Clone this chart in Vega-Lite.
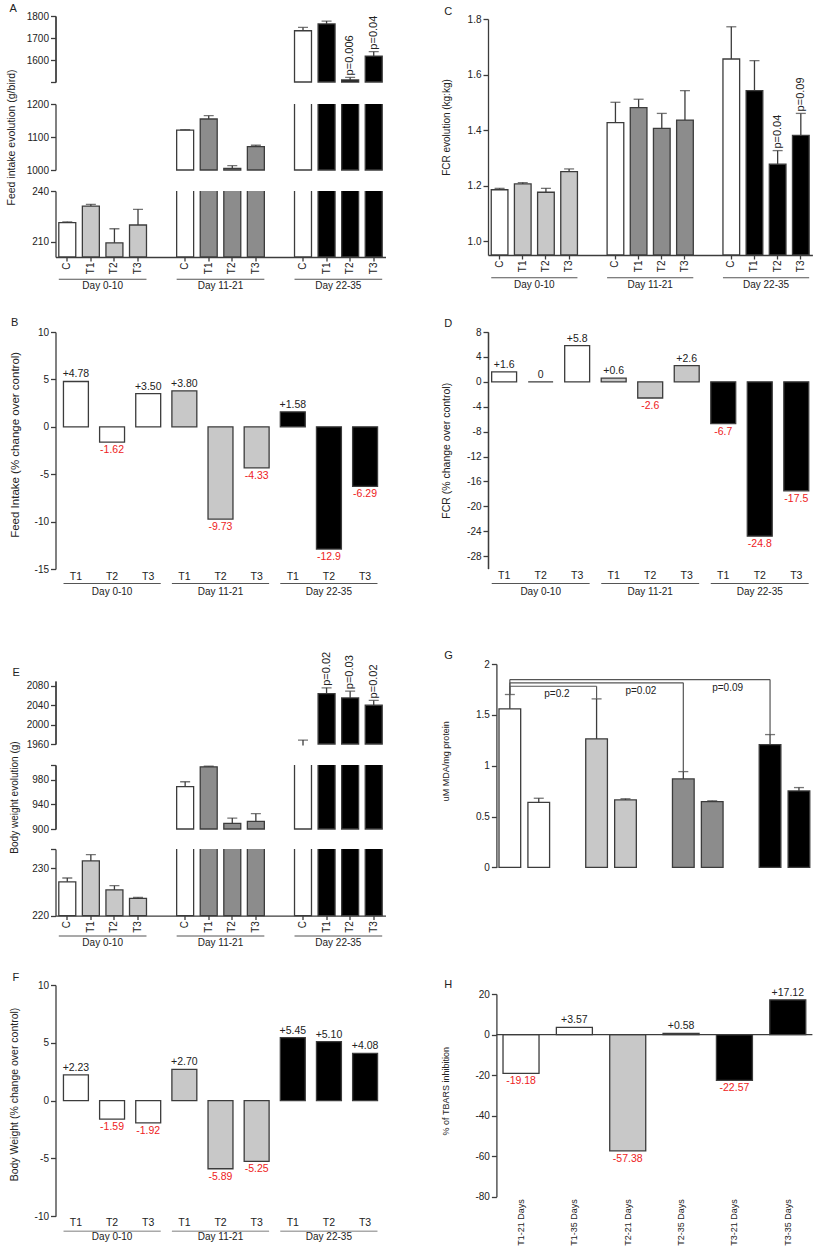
{
"$schema": "https://vega.github.io/schema/vega-lite/v6.json",
"padding": {"left": 6.5, "top": 0, "right": 0, "bottom": 0},
"background": "white",
"config": {
 "font": "Liberation Sans, Arial, sans-serif",
 "view": {"stroke": null},
 "axis": {"labelFont": "Liberation Sans, Arial, sans-serif", "titleFont": "Liberation Sans, Arial, sans-serif", "labelFontSize": 10, "titleFontSize": 10.5, "titleFontWeight": "normal", "labelColor": "#222222", "titleColor": "#222222", "domainColor": "#3c3c3c", "tickColor": "#3c3c3c", "domainWidth": 1.3, "tickWidth": 1.3, "tickSize": 5, "grid": false, "labelPadding": 2, "labelOverlap": false, "labelBound": false, "labelFlush": false},
 "title": {"font": "Liberation Sans, Arial, sans-serif", "fontSize": 11, "fontWeight": "normal", "anchor": "start", "frame": "group", "color": "#222222", "baseline": "alphabetic"},
 "text": {"font": "Liberation Sans, Arial, sans-serif"}
},
"datasets": {
 "grp": [{"g": "Day 0-10"}, {"g": "Day 11-21"}, {"g": "Day 22-35"}],
 "fi": [
  {"g": "Day 0-10", "t": "C", "k": "Day 0-10|C", "v": 221.3, "hi": 221.8},
  {"g": "Day 0-10", "t": "T1", "k": "Day 0-10|T1", "v": 231.1, "hi": 232.1},
  {"g": "Day 0-10", "t": "T2", "k": "Day 0-10|T2", "v": 209.4, "hi": 217.7},
  {"g": "Day 0-10", "t": "T3", "k": "Day 0-10|T3", "v": 219.9, "hi": 229.2},
  {"g": "Day 11-21", "t": "C", "k": "Day 11-21|C", "v": 1121, "hi": 1122},
  {"g": "Day 11-21", "t": "T1", "k": "Day 11-21|T1", "v": 1154.5, "hi": 1164.5},
  {"g": "Day 11-21", "t": "T2", "k": "Day 11-21|T2", "v": 1005, "hi": 1013},
  {"g": "Day 11-21", "t": "T3", "k": "Day 11-21|T3", "v": 1071, "hi": 1075},
  {"g": "Day 22-35", "t": "C", "k": "Day 22-35|C", "v": 1733, "hi": 1748},
  {"g": "Day 22-35", "t": "T1", "k": "Day 22-35|T1", "v": 1764, "hi": 1777},
  {"g": "Day 22-35", "t": "T2", "k": "Day 22-35|T2", "v": 1509, "hi": 1521, "p": "p=0.006"},
  {"g": "Day 22-35", "t": "T3", "k": "Day 22-35|T3", "v": 1618, "hi": 1638, "p": "p=0.04"}
 ],
 "fcr": [
  {"g": "Day 0-10", "t": "C", "k": "Day 0-10|C", "v": 1.185, "hi": 1.19},
  {"g": "Day 0-10", "t": "T1", "k": "Day 0-10|T1", "v": 1.206, "hi": 1.211},
  {"g": "Day 0-10", "t": "T2", "k": "Day 0-10|T2", "v": 1.176, "hi": 1.19},
  {"g": "Day 0-10", "t": "T3", "k": "Day 0-10|T3", "v": 1.25, "hi": 1.26},
  {"g": "Day 11-21", "t": "C", "k": "Day 11-21|C", "v": 1.427, "hi": 1.5},
  {"g": "Day 11-21", "t": "T1", "k": "Day 11-21|T1", "v": 1.481, "hi": 1.511},
  {"g": "Day 11-21", "t": "T2", "k": "Day 11-21|T2", "v": 1.406, "hi": 1.46},
  {"g": "Day 11-21", "t": "T3", "k": "Day 11-21|T3", "v": 1.436, "hi": 1.542},
  {"g": "Day 22-35", "t": "C", "k": "Day 22-35|C", "v": 1.656, "hi": 1.772},
  {"g": "Day 22-35", "t": "T1", "k": "Day 22-35|T1", "v": 1.542, "hi": 1.65},
  {"g": "Day 22-35", "t": "T2", "k": "Day 22-35|T2", "v": 1.277, "hi": 1.326, "p": "p=0.04"},
  {"g": "Day 22-35", "t": "T3", "k": "Day 22-35|T3", "v": 1.381, "hi": 1.46, "p": "p=0.09"}
 ],
 "bw": [
  {"g": "Day 0-10", "t": "C", "k": "Day 0-10|C", "v": 227.1, "hi": 227.9},
  {"g": "Day 0-10", "t": "T1", "k": "Day 0-10|T1", "v": 231.5, "hi": 232.8},
  {"g": "Day 0-10", "t": "T2", "k": "Day 0-10|T2", "v": 225.4, "hi": 226.3},
  {"g": "Day 0-10", "t": "T3", "k": "Day 0-10|T3", "v": 223.6, "hi": 223.8},
  {"g": "Day 11-21", "t": "C", "k": "Day 11-21|C", "v": 968.7, "hi": 976.8},
  {"g": "Day 11-21", "t": "T1", "k": "Day 11-21|T1", "v": 1001, "hi": 1002},
  {"g": "Day 11-21", "t": "T2", "k": "Day 11-21|T2", "v": 909.2, "hi": 917.8},
  {"g": "Day 11-21", "t": "T3", "k": "Day 11-21|T3", "v": 912.4, "hi": 924.9},
  {"g": "Day 22-35", "t": "C", "k": "Day 22-35|C", "v": 1957, "hi": 1968},
  {"g": "Day 22-35", "t": "T1", "k": "Day 22-35|T1", "v": 2064, "hi": 2076, "p": "p=0.02"},
  {"g": "Day 22-35", "t": "T2", "k": "Day 22-35|T2", "v": 2055, "hi": 2069, "p": "p=0.03"},
  {"g": "Day 22-35", "t": "T3", "k": "Day 22-35|T3", "v": 2040, "hi": 2050, "p": "p=0.02"}
 ],
 "fip": [
  {"g": "Day 0-10", "k": "Day 0-10|T1", "v": 4.78, "lab": "+4.78"},
  {"g": "Day 0-10", "k": "Day 0-10|T2", "v": -1.62, "lab": "-1.62"},
  {"g": "Day 0-10", "k": "Day 0-10|T3", "v": 3.5, "lab": "+3.50"},
  {"g": "Day 11-21", "k": "Day 11-21|T1", "v": 3.8, "lab": "+3.80"},
  {"g": "Day 11-21", "k": "Day 11-21|T2", "v": -9.73, "lab": "-9.73"},
  {"g": "Day 11-21", "k": "Day 11-21|T3", "v": -4.33, "lab": "-4.33"},
  {"g": "Day 22-35", "k": "Day 22-35|T1", "v": 1.58, "lab": "+1.58"},
  {"g": "Day 22-35", "k": "Day 22-35|T2", "v": -12.9, "lab": "-12.9"},
  {"g": "Day 22-35", "k": "Day 22-35|T3", "v": -6.29, "lab": "-6.29"}
 ],
 "fcrp": [
  {"g": "Day 0-10", "k": "Day 0-10|T1", "v": 1.6, "lab": "+1.6"},
  {"g": "Day 0-10", "k": "Day 0-10|T2", "v": 0, "lab": "0"},
  {"g": "Day 0-10", "k": "Day 0-10|T3", "v": 5.8, "lab": "+5.8"},
  {"g": "Day 11-21", "k": "Day 11-21|T1", "v": 0.6, "lab": "+0.6"},
  {"g": "Day 11-21", "k": "Day 11-21|T2", "v": -2.6, "lab": "-2.6"},
  {"g": "Day 11-21", "k": "Day 11-21|T3", "v": 2.6, "lab": "+2.6"},
  {"g": "Day 22-35", "k": "Day 22-35|T1", "v": -6.7, "lab": "-6.7"},
  {"g": "Day 22-35", "k": "Day 22-35|T2", "v": -24.8, "lab": "-24.8"},
  {"g": "Day 22-35", "k": "Day 22-35|T3", "v": -17.5, "lab": "-17.5"}
 ],
 "bwp": [
  {"g": "Day 0-10", "k": "Day 0-10|T1", "v": 2.23, "lab": "+2.23"},
  {"g": "Day 0-10", "k": "Day 0-10|T2", "v": -1.59, "lab": "-1.59"},
  {"g": "Day 0-10", "k": "Day 0-10|T3", "v": -1.92, "lab": "-1.92"},
  {"g": "Day 11-21", "k": "Day 11-21|T1", "v": 2.7, "lab": "+2.70"},
  {"g": "Day 11-21", "k": "Day 11-21|T2", "v": -5.89, "lab": "-5.89"},
  {"g": "Day 11-21", "k": "Day 11-21|T3", "v": -5.25, "lab": "-5.25"},
  {"g": "Day 22-35", "k": "Day 22-35|T1", "v": 5.45, "lab": "+5.45"},
  {"g": "Day 22-35", "k": "Day 22-35|T2", "v": 5.1, "lab": "+5.10"},
  {"g": "Day 22-35", "k": "Day 22-35|T3", "v": 4.08, "lab": "+4.08"}
 ],
 "tb": [
  {"k": "C-21 Days", "t": "C", "v": 1.559, "hi": 1.7},
  {"k": "C-35 Days", "t": "C", "v": 0.64, "hi": 0.68},
  {"k": "T1-21 Days", "t": "T1", "v": 1.264, "hi": 1.657},
  {"k": "T1-35 Days", "t": "T1", "v": 0.663, "hi": 0.675},
  {"k": "T2-21 Days", "t": "T2", "v": 0.87, "hi": 0.942},
  {"k": "T2-35 Days", "t": "T2", "v": 0.647, "hi": 0.655},
  {"k": "T3-21 Days", "t": "T3", "v": 1.208, "hi": 1.306},
  {"k": "T3-35 Days", "t": "T3", "v": 0.752, "hi": 0.785}
 ],
 "tbb": [
  {"from": "C-21 Days", "to": "T1-21 Days", "lvl": 1.781, "base": 1.7, "top": 1.657, "p": "p=0.2"},
  {"from": "C-21 Days", "to": "T2-21 Days", "lvl": 1.815, "base": 1.7, "top": 0.942, "p": "p=0.02"},
  {"from": "C-21 Days", "to": "T3-21 Days", "lvl": 1.847, "base": 1.7, "top": 1.306, "p": "p=0.09"}
 ],
 "inh": [
  {"k": "T1-21 Days", "t": "T1", "v": -19.18, "lab": "-19.18"},
  {"k": "T1-35 Days", "t": "T1", "v": 3.57, "lab": "+3.57"},
  {"k": "T2-21 Days", "t": "T2", "v": -57.38, "lab": "-57.38"},
  {"k": "T2-35 Days", "t": "T2", "v": 0.58, "lab": "+0.58"},
  {"k": "T3-21 Days", "t": "T3", "v": -22.57, "lab": "-22.57"},
  {"k": "T3-35 Days", "t": "T3", "v": 17.12, "lab": "+17.12"}
 ]
},
"spacing": 55.5,
"hconcat": [
 {"bounds": "flush", "spacing": 0, "vconcat": [
  {"width": 330, "height": 103.3,
   "title": {"text": "A", "dx": -46, "offset": -14},
   "data": {"name": "fi"},
   "encoding": {"x": {"field": "k", "type": "nominal", "scale": {"domain": ["Day 0-10|C","Day 0-10|T1","Day 0-10|T2","Day 0-10|T3","s1","Day 11-21|C","Day 11-21|T1","Day 11-21|T2","Day 11-21|T3","s2","Day 22-35|C","Day 22-35|T1","Day 22-35|T2","Day 22-35|T3"], "paddingInner": 0.28, "paddingOuter": 0.14}, "axis": null}},
   "layer": [
    {"transform": [{"filter": "datum.v >= 1500"}], "mark": {"type": "bar", "clip": true, "stroke": "#3c3c3c", "strokeWidth": 1.3},
     "encoding": {"y": {"field": "v", "type": "quantitative", "scale": {"domain": [1500, 1800], "zero": false, "nice": false, "range": [82, 16]}, "axis": {"orient": "left", "values": [1500, 1700], "labelExpr": "datum.value == 1500 ? '' : '' + datum.value", "title": null}},
      "y2": {"datum": 1500},
      "fill": {"condition": [{"test": "datum.t === 'C'", "value": "#ffffff"}, {"test": "datum.g === 'Day 0-10'", "value": "#c8c8c8"}, {"test": "datum.g === 'Day 11-21'", "value": "#8c8c8c"}], "value": "#000000"}}},
    {"transform": [{"filter": "datum.hi >= 1500"}], "mark": {"type": "rule", "clip": true, "color": "#3c3c3c", "strokeWidth": 1.3}, "encoding": {"y": {"field": "v", "type": "quantitative", "axis": {"orient": "left", "values": [1600, 1800], "labelExpr": "'' + datum.value", "title": null}}, "y2": {"field": "hi"}}},
    {"transform": [{"filter": "datum.hi >= 1500"}], "mark": {"type": "tick", "clip": true, "color": "#3c3c3c", "thickness": 1.3, "size": 10}, "encoding": {"y": {"field": "hi", "type": "quantitative", "axis": null}}},
    {"transform": [{"filter": "isValid(datum.p)"}], "mark": {"type": "text", "angle": 270, "align": "left", "baseline": "middle", "dx": 2, "fontSize": 11, "color": "#222222"}, "encoding": {"y": {"field": "hi", "type": "quantitative", "axis": null}, "text": {"field": "p", "type": "nominal"}}}
   ],
   "resolve": {"axis": {"y": "independent"}}},
  {"width": 330, "height": 86.7,
   "data": {"name": "fi"},
   "encoding": {"x": {"field": "k", "type": "nominal", "scale": {"domain": ["Day 0-10|C","Day 0-10|T1","Day 0-10|T2","Day 0-10|T3","s1","Day 11-21|C","Day 11-21|T1","Day 11-21|T2","Day 11-21|T3","s2","Day 22-35|C","Day 22-35|T1","Day 22-35|T2","Day 22-35|T3"], "paddingInner": 0.28, "paddingOuter": 0.14}, "axis": null}},
   "layer": [
    {"transform": [{"filter": "datum.v >= 1000"}], "mark": {"type": "bar", "clip": true, "stroke": "#3c3c3c", "strokeWidth": 1.3},
     "encoding": {"y": {"field": "v", "type": "quantitative", "scale": {"domain": [1000, 1200], "zero": false, "nice": false, "range": [66, 0]}, "axis": {"values": [1000, 1100, 1200], "labelExpr": "'' + datum.value", "title": "Feed intake evolution (g/bird)", "titleX": -39, "titleAngle": 270, "titleBaseline": "bottom", "titleFontSize": 10.5}},
      "y2": {"datum": 1000},
      "fill": {"condition": [{"test": "datum.t === 'C'", "value": "#ffffff"}, {"test": "datum.g === 'Day 0-10'", "value": "#c8c8c8"}, {"test": "datum.g === 'Day 11-21'", "value": "#8c8c8c"}], "value": "#000000"}}},
    {"transform": [{"filter": "datum.hi >= 1000"}], "mark": {"type": "rule", "clip": true, "color": "#3c3c3c", "strokeWidth": 1.3}, "encoding": {"y": {"field": "v", "type": "quantitative"}, "y2": {"field": "hi"}}},
    {"transform": [{"filter": "datum.hi >= 1000"}], "mark": {"type": "tick", "clip": true, "color": "#3c3c3c", "thickness": 1.3, "size": 10}, "encoding": {"y": {"field": "hi", "type": "quantitative"}}}
   ]},
  {"width": 330, "height": 140.7,
   "layer": [
    {"data": {"name": "fi"},
     "encoding": {"x": {"field": "k", "type": "nominal", "scale": {"domain": ["Day 0-10|C","Day 0-10|T1","Day 0-10|T2","Day 0-10|T3","s1","Day 11-21|C","Day 11-21|T1","Day 11-21|T2","Day 11-21|T3","s2","Day 22-35|C","Day 22-35|T1","Day 22-35|T2","Day 22-35|T3"], "paddingInner": 0.28, "paddingOuter": 0.14}, "axis": {"offset": -74.7, "values": ["Day 0-10|C","Day 0-10|T1","Day 0-10|T2","Day 0-10|T3","Day 11-21|C","Day 11-21|T1","Day 11-21|T2","Day 11-21|T3","Day 22-35|C","Day 22-35|T1","Day 22-35|T2","Day 22-35|T3"], "labelExpr": "split(datum.value, '|')[1]", "labelAngle": 270, "labelFontSize": 10, "tickSize": 4, "labelPadding": 1, "title": null}}},
     "layer": [
      {"transform": [{"filter": "datum.v >= 201"}], "mark": {"type": "bar", "clip": true, "stroke": "#3c3c3c", "strokeWidth": 1.3},
       "encoding": {"y": {"field": "v", "type": "quantitative", "scale": {"domain": [201, 240], "zero": false, "nice": false, "range": [66, 0]}, "axis": {"values": [210, 240], "labelExpr": "'' + datum.value", "title": null}},
        "y2": {"datum": 201},
        "fill": {"condition": [{"test": "datum.t === 'C'", "value": "#ffffff"}, {"test": "datum.g === 'Day 0-10'", "value": "#c8c8c8"}, {"test": "datum.g === 'Day 11-21'", "value": "#8c8c8c"}], "value": "#000000"}}},
      {"transform": [{"filter": "datum.hi >= 201"}], "mark": {"type": "rule", "clip": true, "color": "#3c3c3c", "strokeWidth": 1.3}, "encoding": {"y": {"field": "v", "type": "quantitative"}, "y2": {"field": "hi"}}},
      {"transform": [{"filter": "datum.hi >= 201"}], "mark": {"type": "tick", "clip": true, "color": "#3c3c3c", "thickness": 1.3, "size": 10}, "encoding": {"y": {"field": "hi", "type": "quantitative"}}}
     ]},
    {"data": {"name": "grp"},
     "mark": {"type": "bar", "color": "#555555"},
     "encoding": {"x": {"field": "g", "type": "nominal", "scale": {"domain": ["Day 0-10", "Day 11-21", "Day 22-35"], "paddingInner": 0.256, "paddingOuter": 0.028}, "axis": {"orient": "bottom", "offset": -51.5, "domain": false, "ticks": false, "tickSize": 0, "labelPadding": 0, "labelAngle": 0, "labelFontSize": 10, "title": null}},
      "y": {"datum": 188.2, "type": "quantitative"}, "y2": {"datum": 187.6}}}
   ],
   "resolve": {"scale": {"x": "independent"}}},
  {"width": 330, "height": 348.6,
   "title": {"text": "B", "dx": -44.5, "offset": -1.3},
   "layer": [
    {"data": {"name": "fip"},
     "encoding": {"x": {"field": "k", "type": "nominal", "scale": {"domain": ["Day 0-10|T1","Day 0-10|T2","Day 0-10|T3","Day 11-21|T1","Day 11-21|T2","Day 11-21|T3","Day 22-35|T1","Day 22-35|T2","Day 22-35|T3"], "paddingInner": 0.31, "paddingOuter": 0.22}, "axis": {"offset": -111.6, "labelExpr": "split(datum.value, '|')[1]", "labelAngle": 0, "labelFontSize": 10.5, "domain": false, "ticks": false, "tickSize": 0, "labelPadding": 2.2, "title": null}}},
     "layer": [
      {"mark": {"type": "bar", "stroke": "#3c3c3c", "strokeWidth": 1.3},
       "encoding": {"y": {"field": "v", "type": "quantitative", "scale": {"domain": [-15, 10], "nice": false, "range": [237, 0]}, "axis": {"values": [-15, -10, -5, 0, 5, 10], "labelExpr": "'' + datum.value", "title": "Feed Intake (% change over control)", "titleX": -35.25, "titleY": 112.3, "titleAngle": 270, "titleBaseline": "bottom", "titleFontSize": 11.5}},
        "fill": {"condition": [{"test": "datum.g === 'Day 0-10'", "value": "#ffffff"}, {"test": "datum.g === 'Day 11-21'", "value": "#c8c8c8"}], "value": "#000000"}}},
      {"mark": {"type": "rule", "color": "#3c3c3c", "strokeWidth": 1.3}, "encoding": {"y": {"datum": 0, "type": "quantitative"}}},
      {"transform": [{"filter": "datum.v >= 0"}], "mark": {"type": "text", "baseline": "alphabetic", "dy": -4, "fontSize": 10.5, "color": "#222222"}, "encoding": {"y": {"field": "v", "type": "quantitative"}, "text": {"field": "lab", "type": "nominal"}}},
      {"transform": [{"filter": "datum.v < 0"}], "mark": {"type": "text", "baseline": "top", "dy": 3, "fontSize": 10.5, "color": "#ee2222"}, "encoding": {"y": {"field": "v", "type": "quantitative"}, "text": {"field": "lab", "type": "nominal"}}}
     ]},
    {"data": {"name": "grp"},
     "mark": {"type": "bar", "color": "#555555"},
     "encoding": {"x": {"field": "g", "type": "nominal", "scale": {"domain": ["Day 0-10", "Day 11-21", "Day 22-35"], "paddingInner": 0.103, "paddingOuter": 0.074}, "axis": {"orient": "bottom", "offset": -94.1, "domain": false, "ticks": false, "tickSize": 0, "labelPadding": 0, "labelAngle": 0, "labelFontSize": 10, "title": null}},
      "y": {"datum": -16.48, "type": "quantitative"}, "y2": {"datum": -16.58}}}
   ],
   "resolve": {"scale": {"x": "independent"}}},
  {"width": 330, "height": 83.4,
   "title": {"text": "E", "dx": -43, "offset": -25.7},
   "data": {"name": "bw"},
   "encoding": {"x": {"field": "k", "type": "nominal", "scale": {"domain": ["Day 0-10|C","Day 0-10|T1","Day 0-10|T2","Day 0-10|T3","s1","Day 11-21|C","Day 11-21|T1","Day 11-21|T2","Day 11-21|T3","s2","Day 22-35|C","Day 22-35|T1","Day 22-35|T2","Day 22-35|T3"], "paddingInner": 0.28, "paddingOuter": 0.14}, "axis": null}},
   "layer": [
    {"transform": [{"filter": "datum.v >= 1960"}], "mark": {"type": "bar", "clip": true, "stroke": "#3c3c3c", "strokeWidth": 1.3},
     "encoding": {"y": {"field": "v", "type": "quantitative", "scale": {"domain": [1960, 2090], "zero": false, "nice": false, "range": [63, 0]}, "axis": {"orient": "left", "values": [1960, 2040], "labelExpr": "'' + datum.value", "title": null}},
      "y2": {"datum": 1960},
      "fill": {"condition": [{"test": "datum.t === 'C'", "value": "#ffffff"}, {"test": "datum.g === 'Day 0-10'", "value": "#c8c8c8"}, {"test": "datum.g === 'Day 11-21'", "value": "#8c8c8c"}], "value": "#000000"}}},
    {"transform": [{"filter": "datum.hi >= 1960"}], "mark": {"type": "rule", "clip": true, "color": "#3c3c3c", "strokeWidth": 1.3}, "encoding": {"y": {"field": "v", "type": "quantitative", "axis": {"orient": "left", "values": [2000, 2080], "labelExpr": "'' + datum.value", "title": null}}, "y2": {"field": "hi"}}},
    {"transform": [{"filter": "datum.hi >= 1960"}], "mark": {"type": "tick", "clip": true, "color": "#3c3c3c", "thickness": 1.3, "size": 10}, "encoding": {"y": {"field": "hi", "type": "quantitative", "axis": null}}},
    {"transform": [{"filter": "isValid(datum.p)"}], "mark": {"type": "text", "angle": 270, "align": "left", "baseline": "middle", "dx": 2, "fontSize": 11, "color": "#222222"}, "encoding": {"y": {"field": "hi", "type": "quantitative", "axis": null}, "text": {"field": "p", "type": "nominal"}}}
   ],
   "resolve": {"axis": {"y": "independent"}}},
  {"width": 330, "height": 84,
   "data": {"name": "bw"},
   "encoding": {"x": {"field": "k", "type": "nominal", "scale": {"domain": ["Day 0-10|C","Day 0-10|T1","Day 0-10|T2","Day 0-10|T3","s1","Day 11-21|C","Day 11-21|T1","Day 11-21|T2","Day 11-21|T3","s2","Day 22-35|C","Day 22-35|T1","Day 22-35|T2","Day 22-35|T3"], "paddingInner": 0.28, "paddingOuter": 0.14}, "axis": null}},
   "layer": [
    {"transform": [{"filter": "datum.v >= 900"}], "mark": {"type": "bar", "clip": true, "stroke": "#3c3c3c", "strokeWidth": 1.3},
     "encoding": {"y": {"field": "v", "type": "quantitative", "scale": {"domain": [900, 1004], "zero": false, "nice": false, "range": [64, 0]}, "axis": {"orient": "left", "values": [900, 980], "labelExpr": "'' + datum.value", "title": "Body weight evolution (g)", "titleX": -36, "titleAngle": 270, "titleBaseline": "bottom", "titleFontSize": 10}},
      "y2": {"datum": 900},
      "fill": {"condition": [{"test": "datum.t === 'C'", "value": "#ffffff"}, {"test": "datum.g === 'Day 0-10'", "value": "#c8c8c8"}, {"test": "datum.g === 'Day 11-21'", "value": "#8c8c8c"}], "value": "#000000"}}},
    {"transform": [{"filter": "datum.hi >= 900"}], "mark": {"type": "rule", "clip": true, "color": "#3c3c3c", "strokeWidth": 1.3}, "encoding": {"y": {"field": "v", "type": "quantitative", "axis": {"orient": "left", "values": [940, 1004], "labelExpr": "datum.value == 1004 ? '' : '' + datum.value", "title": null}}, "y2": {"field": "hi"}}},
    {"transform": [{"filter": "datum.hi >= 900"}], "mark": {"type": "tick", "clip": true, "color": "#3c3c3c", "thickness": 1.3, "size": 10}, "encoding": {"y": {"field": "hi", "type": "quantitative", "axis": null}}}
   ],
   "resolve": {"axis": {"y": "independent"}}},
  {"width": 330, "height": 136,
   "layer": [
    {"data": {"name": "bw"},
     "encoding": {"x": {"field": "k", "type": "nominal", "scale": {"domain": ["Day 0-10|C","Day 0-10|T1","Day 0-10|T2","Day 0-10|T3","s1","Day 11-21|C","Day 11-21|T1","Day 11-21|T2","Day 11-21|T3","s2","Day 22-35|C","Day 22-35|T1","Day 22-35|T2","Day 22-35|T3"], "paddingInner": 0.28, "paddingOuter": 0.14}, "axis": {"offset": -69.4, "values": ["Day 0-10|C","Day 0-10|T1","Day 0-10|T2","Day 0-10|T3","Day 11-21|C","Day 11-21|T1","Day 11-21|T2","Day 11-21|T3","Day 22-35|C","Day 22-35|T1","Day 22-35|T2","Day 22-35|T3"], "labelExpr": "split(datum.value, '|')[1]", "labelAngle": 270, "labelFontSize": 10, "tickSize": 4, "labelPadding": 1, "title": null}}},
     "layer": [
      {"transform": [{"filter": "datum.v >= 220"}], "mark": {"type": "bar", "clip": true, "stroke": "#3c3c3c", "strokeWidth": 1.3},
       "encoding": {"y": {"field": "v", "type": "quantitative", "scale": {"domain": [220, 234], "zero": false, "nice": false, "range": [66.6, 0]}, "axis": {"values": [220, 230, 234], "labelExpr": "datum.value == 234 ? '' : '' + datum.value", "title": null}},
        "y2": {"datum": 220},
        "fill": {"condition": [{"test": "datum.t === 'C'", "value": "#ffffff"}, {"test": "datum.g === 'Day 0-10'", "value": "#c8c8c8"}, {"test": "datum.g === 'Day 11-21'", "value": "#8c8c8c"}], "value": "#000000"}}},
      {"transform": [{"filter": "datum.hi >= 220"}], "mark": {"type": "rule", "clip": true, "color": "#3c3c3c", "strokeWidth": 1.3}, "encoding": {"y": {"field": "v", "type": "quantitative"}, "y2": {"field": "hi"}}},
      {"transform": [{"filter": "datum.hi >= 220"}], "mark": {"type": "tick", "clip": true, "color": "#3c3c3c", "thickness": 1.3, "size": 10}, "encoding": {"y": {"field": "hi", "type": "quantitative"}}}
     ]},
    {"data": {"name": "grp"},
     "mark": {"type": "bar", "color": "#555555"},
     "encoding": {"x": {"field": "g", "type": "nominal", "scale": {"domain": ["Day 0-10", "Day 11-21", "Day 22-35"], "paddingInner": 0.256, "paddingOuter": 0.028}, "axis": {"orient": "bottom", "offset": -47.5, "domain": false, "ticks": false, "tickSize": 0, "labelPadding": 0, "labelAngle": 0, "labelFontSize": 10, "title": null}},
      "y": {"datum": 215.8, "type": "quantitative"}, "y2": {"datum": 215.59}}}
   ],
   "resolve": {"scale": {"x": "independent"}}},
  {"width": 330, "height": 231.3,
   "title": {"text": "F", "dx": -43, "offset": -3},
   "layer": [
    {"data": {"name": "bwp"},
     "encoding": {"x": {"field": "k", "type": "nominal", "scale": {"domain": ["Day 0-10|T1","Day 0-10|T2","Day 0-10|T3","Day 11-21|T1","Day 11-21|T2","Day 11-21|T3","Day 22-35|T1","Day 22-35|T2","Day 22-35|T3"], "paddingInner": 0.31, "paddingOuter": 0.22}, "axis": {"labelExpr": "split(datum.value, '|')[1]", "labelAngle": 0, "labelFontSize": 10.5, "domain": false, "ticks": false, "tickSize": 0, "labelPadding": 1.2, "title": null}}},
     "layer": [
      {"mark": {"type": "bar", "stroke": "#3c3c3c", "strokeWidth": 1.3},
       "encoding": {"y": {"field": "v", "type": "quantitative", "scale": {"domain": [-10, 10], "nice": false}, "axis": {"values": [-10, -5, 0, 5, 10], "labelExpr": "'' + datum.value", "title": "Body Weight (% change over control)", "titleX": -35.75, "titleY": 109, "titleAngle": 270, "titleBaseline": "bottom", "titleFontSize": 10.5}},
        "fill": {"condition": [{"test": "datum.g === 'Day 0-10'", "value": "#ffffff"}, {"test": "datum.g === 'Day 11-21'", "value": "#c8c8c8"}], "value": "#000000"}}},
      {"mark": {"type": "rule", "color": "#3c3c3c", "strokeWidth": 1.3}, "encoding": {"y": {"datum": 0, "type": "quantitative"}}},
      {"transform": [{"filter": "datum.v >= 0"}], "mark": {"type": "text", "baseline": "alphabetic", "dy": -4, "fontSize": 10.5, "color": "#222222"}, "encoding": {"y": {"field": "v", "type": "quantitative"}, "text": {"field": "lab", "type": "nominal"}}},
      {"transform": [{"filter": "datum.v < 0"}], "mark": {"type": "text", "baseline": "top", "dy": 3, "fontSize": 10.5, "color": "#ee2222"}, "encoding": {"y": {"field": "v", "type": "quantitative"}, "text": {"field": "lab", "type": "nominal"}}}
     ]},
    {"data": {"name": "grp"},
     "mark": {"type": "bar", "color": "#555555"},
     "encoding": {"x": {"field": "g", "type": "nominal", "scale": {"domain": ["Day 0-10", "Day 11-21", "Day 22-35"], "paddingInner": 0.103, "paddingOuter": 0.074}, "axis": {"orient": "bottom", "offset": 15.2, "domain": false, "ticks": false, "tickSize": 0, "labelPadding": 0, "labelAngle": 0, "labelFontSize": 10, "title": null}},
      "y": {"datum": -11.24, "type": "quantitative"}, "y2": {"datum": -11.32}}}
   ],
   "resolve": {"scale": {"x": "independent"}}}
 ]},
 {"bounds": "flush", "spacing": 0, "vconcat": [
  {"width": 324.4, "height": 331.7,
   "title": {"text": "C", "dx": -43.8, "offset": -17},
   "layer": [
    {"data": {"name": "fcr"},
     "encoding": {"x": {"field": "k", "type": "nominal", "scale": {"domain": ["Day 0-10|C","Day 0-10|T1","Day 0-10|T2","Day 0-10|T3","s1","Day 11-21|C","Day 11-21|T1","Day 11-21|T2","Day 11-21|T3","s2","Day 22-35|C","Day 22-35|T1","Day 22-35|T2","Day 22-35|T3"], "paddingInner": 0.28, "paddingOuter": 0.14}, "axis": {"offset": -76.7, "values": ["Day 0-10|C","Day 0-10|T1","Day 0-10|T2","Day 0-10|T3","Day 11-21|C","Day 11-21|T1","Day 11-21|T2","Day 11-21|T3","Day 22-35|C","Day 22-35|T1","Day 22-35|T2","Day 22-35|T3"], "labelExpr": "split(datum.value, '|')[1]", "labelAngle": 270, "labelFontSize": 10, "tickSize": 4, "labelPadding": 1, "title": null}}},
     "layer": [
      {"mark": {"type": "bar", "stroke": "#3c3c3c", "strokeWidth": 1.3},
       "encoding": {"y": {"field": "v", "type": "quantitative", "scale": {"domain": [0.95, 1.8], "zero": false, "nice": false, "range": [255, 19]}, "axis": {"values": [1.0, 1.2, 1.4, 1.6, 1.8], "format": ".1f", "title": "FCR evolution (kg:kg)", "titleX": -36.6, "titleY": 127, "titleAngle": 270, "titleBaseline": "bottom", "titleFontSize": 10}},
        "y2": {"datum": 0.95},
        "fill": {"condition": [{"test": "datum.t === 'C'", "value": "#ffffff"}, {"test": "datum.g === 'Day 0-10'", "value": "#c8c8c8"}, {"test": "datum.g === 'Day 11-21'", "value": "#8c8c8c"}], "value": "#000000"}}},
      {"mark": {"type": "rule", "color": "#3c3c3c", "strokeWidth": 1.3}, "encoding": {"y": {"field": "v", "type": "quantitative"}, "y2": {"field": "hi"}}},
      {"mark": {"type": "tick", "color": "#3c3c3c", "thickness": 1.3, "size": 10}, "encoding": {"y": {"field": "hi", "type": "quantitative"}}},
      {"transform": [{"filter": "isValid(datum.p)"}], "mark": {"type": "text", "angle": 270, "align": "left", "baseline": "middle", "dx": 2, "fontSize": 11, "color": "#222222"}, "encoding": {"y": {"field": "hi", "type": "quantitative"}, "text": {"field": "p", "type": "nominal"}}}
     ]},
    {"data": {"name": "grp"},
     "mark": {"type": "bar", "color": "#555555"},
     "encoding": {"x": {"field": "g", "type": "nominal", "scale": {"domain": ["Day 0-10", "Day 11-21", "Day 22-35"], "paddingInner": 0.256, "paddingOuter": 0.028}, "axis": {"orient": "bottom", "offset": -52.5, "domain": false, "ticks": false, "tickSize": 0, "labelPadding": 0, "labelAngle": 0, "labelFontSize": 10, "title": null}},
      "y": {"datum": 0.8697, "type": "quantitative"}, "y2": {"datum": 0.8661}}}
   ],
   "resolve": {"scale": {"x": "independent"}}},
  {"width": 324.4, "height": 331.6,
   "title": {"text": "D", "dx": -43.8, "offset": -2.3},
   "layer": [
    {"data": {"name": "fcrp"},
     "encoding": {"x": {"field": "k", "type": "nominal", "scale": {"domain": ["Day 0-10|T1","Day 0-10|T2","Day 0-10|T3","Day 11-21|T1","Day 11-21|T2","Day 11-21|T3","Day 22-35|T1","Day 22-35|T2","Day 22-35|T3"], "paddingInner": 0.317, "paddingOuter": 0.1}, "axis": {"offset": -95, "labelExpr": "split(datum.value, '|')[1]", "labelAngle": 0, "labelFontSize": 10.5, "domain": false, "ticks": false, "tickSize": 0, "labelPadding": 1.6, "title": null}}},
     "layer": [
      {"mark": {"type": "bar", "stroke": "#3c3c3c", "strokeWidth": 1.3},
       "encoding": {"y": {"field": "v", "type": "quantitative", "scale": {"domain": [-30, 8], "nice": false, "range": [236.6, 0]}, "axis": {"orient": "left", "values": [-28, -20, -12, -4, 4], "labelExpr": "'' + datum.value", "title": "FCR (% change over control)", "titleX": -36.35, "titleAngle": 270, "titleBaseline": "bottom", "titleFontSize": 10.5}},
        "fill": {"condition": [{"test": "datum.g === 'Day 0-10'", "value": "#ffffff"}, {"test": "datum.g === 'Day 11-21'", "value": "#c8c8c8"}], "value": "#000000"}}},
      {"mark": {"type": "rule", "color": "#3c3c3c", "strokeWidth": 1.3}, "encoding": {"y": {"datum": 0, "type": "quantitative", "axis": {"orient": "left", "values": [-24, -16, -8, 0, 8], "labelExpr": "'' + datum.value", "title": null}}}},
      {"transform": [{"filter": "datum.v >= 0"}], "mark": {"type": "text", "baseline": "alphabetic", "dy": -4, "fontSize": 10.5, "color": "#222222"}, "encoding": {"y": {"field": "v", "type": "quantitative", "axis": null}, "text": {"field": "lab", "type": "nominal"}}},
      {"transform": [{"filter": "datum.v < 0"}], "mark": {"type": "text", "baseline": "top", "dy": 3, "fontSize": 10.5, "color": "#ee2222"}, "encoding": {"y": {"field": "v", "type": "quantitative", "axis": null}, "text": {"field": "lab", "type": "nominal"}}}
     ],
     "resolve": {"axis": {"y": "independent"}}},
    {"data": {"name": "grp"},
     "mark": {"type": "bar", "color": "#555555"},
     "encoding": {"x": {"field": "g", "type": "nominal", "scale": {"domain": ["Day 0-10", "Day 11-21", "Day 22-35"], "paddingInner": 0.106, "paddingOuter": 0.034}, "axis": {"orient": "bottom", "offset": -77.6, "domain": false, "ticks": false, "tickSize": 0, "labelPadding": 0, "labelAngle": 0, "labelFontSize": 10, "title": null}},
      "y": {"datum": -32.31, "type": "quantitative", "axis": null}, "y2": {"datum": -32.47}}}
   ],
   "resolve": {"scale": {"x": "independent"}}},
  {"width": 324.4, "height": 330,
   "title": {"text": "G", "dx": -43.8, "offset": -2.4},
   "layer": [
    {"data": {"name": "tb"},
     "encoding": {"x": {"field": "k", "type": "nominal", "scale": {"domain": ["C-21 Days", "C-35 Days", "s1", "T1-21 Days", "T1-35 Days", "s2", "T2-21 Days", "T2-35 Days", "s3", "T3-21 Days", "T3-35 Days"], "paddingInner": 0.25, "paddingOuter": 0.09, "range": [8.4, 324.4]}, "axis": {"offset": -126.6, "values": ["C-21 Days", "C-35 Days", "T1-21 Days", "T1-35 Days", "T2-21 Days", "T2-35 Days", "T3-21 Days", "T3-35 Days"], "labelAngle": 270, "labelFontSize": 9.5, "tickSize": 4, "labelPadding": 2, "title": null}}},
     "layer": [
      {"mark": {"type": "bar", "stroke": "#3c3c3c", "strokeWidth": 1.3},
       "encoding": {"y": {"field": "v", "type": "quantitative", "scale": {"domain": [0, 2], "nice": false, "range": [203.4, 0]}, "axis": {"offset": -8.4, "values": [0, 0.5, 1, 1.5, 2], "labelExpr": "'' + datum.value", "title": "uM MDA/mg protein", "titleX": -45.5, "titleY": 96.7, "titleAngle": 270, "titleBaseline": "bottom", "titleFontSize": 9}},
        "fill": {"condition": [{"test": "datum.t === 'C'", "value": "#ffffff"}, {"test": "datum.t === 'T1'", "value": "#c8c8c8"}, {"test": "datum.t === 'T2'", "value": "#8c8c8c"}], "value": "#000000"}}},
      {"mark": {"type": "rule", "color": "#3c3c3c", "strokeWidth": 1.3}, "encoding": {"y": {"field": "v", "type": "quantitative"}, "y2": {"field": "hi"}}},
      {"mark": {"type": "tick", "color": "#3c3c3c", "thickness": 1.3, "size": 10}, "encoding": {"y": {"field": "hi", "type": "quantitative"}}}
     ]},
    {"data": {"name": "tbb"},
     "layer": [
      {"mark": {"type": "rule", "color": "#555555", "strokeWidth": 1.2}, "encoding": {"x": {"field": "from", "type": "nominal", "axis": null}, "x2": {"field": "to"}, "y": {"field": "lvl", "type": "quantitative"}}},
      {"mark": {"type": "rule", "color": "#555555", "strokeWidth": 1.2}, "encoding": {"x": {"field": "to", "type": "nominal", "axis": null}, "y": {"field": "lvl", "type": "quantitative"}, "y2": {"field": "top"}}},
      {"mark": {"type": "rule", "color": "#555555", "strokeWidth": 1.2}, "encoding": {"x": {"field": "from", "type": "nominal", "axis": null}, "y": {"field": "lvl", "type": "quantitative"}, "y2": {"field": "base"}}},
      {"mark": {"type": "text", "align": "right", "baseline": "top", "dx": -27, "dy": 3, "fontSize": 10, "color": "#222222"}, "encoding": {"x": {"field": "to", "type": "nominal", "axis": null}, "y": {"field": "lvl", "type": "quantitative"}, "text": {"field": "p", "type": "nominal"}}}
     ]}
   ]},
  {"width": 324.4, "height": 202.7,
   "title": {"text": "H", "dx": -43.8, "offset": -2.4},
   "layer": [
    {"data": {"name": "inh"},
     "encoding": {"x": {"field": "k", "type": "nominal", "scale": {"domain": ["T1-21 Days", "T1-35 Days", "T2-21 Days", "T2-35 Days", "T3-21 Days", "T3-35 Days"], "paddingInner": 0.325, "paddingOuter": 0.124, "range": [8.4, 324.4]}, "axis": {"labelAngle": 270, "labelFontSize": 9, "domain": false, "ticks": false, "tickSize": 0, "labelPadding": 2, "title": null}}},
     "layer": [
      {"mark": {"type": "bar", "stroke": "#3c3c3c", "strokeWidth": 1.3},
       "encoding": {"y": {"field": "v", "type": "quantitative", "scale": {"domain": [-80, 20], "nice": false}, "axis": {"offset": -8.4, "values": [-80, -60, -40, -20, 0, 20], "labelExpr": "'' + datum.value", "title": "% of TBARS inhibition", "titleX": -45.5, "titleY": 96.7, "titleAngle": 270, "titleBaseline": "bottom", "titleFontSize": 9}},
        "fill": {"condition": [{"test": "datum.t === 'T1'", "value": "#ffffff"}, {"test": "datum.t === 'T2'", "value": "#c8c8c8"}], "value": "#000000"}}},
      {"transform": [{"filter": "datum.v >= 0"}], "mark": {"type": "text", "baseline": "alphabetic", "dy": -4, "fontSize": 10.5, "color": "#222222"}, "encoding": {"y": {"field": "v", "type": "quantitative"}, "text": {"field": "lab", "type": "nominal"}}},
      {"transform": [{"filter": "datum.v < 0"}], "mark": {"type": "text", "baseline": "top", "dy": 3, "fontSize": 10.5, "color": "#ee2222"}, "encoding": {"y": {"field": "v", "type": "quantitative"}, "text": {"field": "lab", "type": "nominal"}}}
     ]},
    {"data": {"values": [{"a": 0, "b": 1}]},
     "mark": {"type": "rule", "color": "#3c3c3c", "strokeWidth": 1.3},
     "encoding": {"x": {"field": "a", "type": "quantitative", "scale": {"domain": [0, 1], "range": [8.4, 324.4]}, "axis": null}, "x2": {"field": "b"}, "y": {"datum": 0, "type": "quantitative"}}}
   ],
   "resolve": {"scale": {"x": "independent"}}}
 ]}
]
}
